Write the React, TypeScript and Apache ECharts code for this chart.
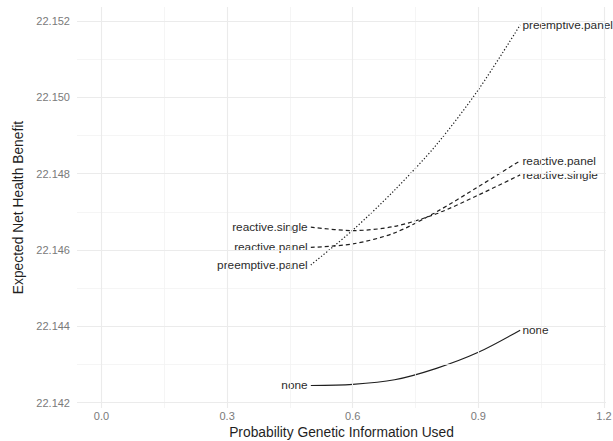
import React, { useEffect, useRef } from "react";
import * as echarts from "echarts";

const xValues = [0.5, 0.6, 0.7, 0.8, 0.9, 1.0];
const noneValues = [22.14245, 22.14248, 22.1426, 22.1429, 22.14332, 22.1439];
const reactivePanelValues = [22.14607, 22.14616, 22.14645, 22.147, 22.14766, 22.14834];
const reactiveSingleValues = [22.1466, 22.14651, 22.14662, 22.14695, 22.14744, 22.14797];
const preemptivePanelValues = [22.14561, 22.14652, 22.14757, 22.14876, 22.1502, 22.1519];

const xTicks = [0, 0.3, 0.6, 0.9, 1.2];
const xMinorTicks = [0.15, 0.45, 0.75, 1.05];
const yTicks = [22.142, 22.144, 22.146, 22.148, 22.15, 22.152];
const yMinorTicks = [22.143, 22.145, 22.147, 22.149, 22.151];

const X_MIN = -0.0585;
const X_MAX = 1.205;
const Y_MIN = 22.14186;
const Y_MAX = 22.15237;

const seriesDefs = [
  { name: "none", values: noneValues, type: "solid" as any },
  { name: "reactive.panel", values: reactivePanelValues, type: [4, 3] as any },
  { name: "reactive.single", values: reactiveSingleValues, type: [4, 3] as any },
  { name: "preemptive.panel", values: preemptivePanelValues, type: [1.3, 2] as any },
];

const FONT = "'Liberation Sans', Arial, Helvetica, sans-serif";

export default function App() {
  const ref = useRef<HTMLDivElement>(null);
  useEffect(() => {
    if (!ref.current) return;
    const chart = echarts.init(ref.current, undefined, { renderer: "svg" });
    const labelStyle = {
      fontSize: 11.8,
      color: "#2b2b2b",
      fontFamily: FONT,
      textBorderWidth: 0,
      textBorderColor: "transparent",
    };
    const lineSeries = seriesDefs.map((s) => ({
      name: s.name,
      type: "line",
      smooth: 0.3,
      showSymbol: true,
      showAllSymbol: true,
      symbol: "circle",
      symbolSize: 0.5,
      itemStyle: { color: "rgba(0,0,0,0)" },
      z: 3,
      lineStyle: { color: "#1f1f1f", width: 1.2, type: s.type },
      data: xValues.map((x, i) => {
        const item: any = { value: [x, s.values[i]] };
        if (i === 0) {
          item.label = { show: true, position: "left", distance: 3, formatter: s.name, ...labelStyle };
        } else if (i === xValues.length - 1) {
          item.label = { show: true, position: "right", distance: 2, formatter: s.name, ...labelStyle };
        }
        return item;
      }),
    }));
    const major = { color: "#ebebeb", width: 1.1, type: "solid" };
    const minor = { color: "#f3f3f3", width: 0.8, type: "solid" };
    const vLine = (v: number, st: any) => [
      { coord: [v, Y_MIN], lineStyle: st },
      { coord: [v, Y_MAX] },
    ];
    const hLine = (v: number, st: any) => [
      { coord: [X_MIN, v], lineStyle: st },
      { coord: [X_MAX, v] },
    ];
    const gridLineSeries = {
      type: "line",
      data: [],
      silent: true,
      z: 1,
      markLine: {
        silent: true,
        symbol: "none",
        label: { show: false },
        emphasis: { disabled: true },
        data: [
          ...xMinorTicks.map((v) => vLine(v, minor)),
          ...yMinorTicks.map((v) => hLine(v, minor)),
          ...xTicks.map((v) => vLine(v, major)),
          ...yTicks.map((v) => hLine(v, major)),
        ],
      },
    };
    chart.setOption({
      animation: false,
      textStyle: { fontFamily: FONT },
      grid: {
        left: 77,
        right: 7,
        top: 7,
        bottom: 33,
        containLabel: false,
        outerBoundsMode: "none",
      },
      xAxis: {
        type: "value",
        min: X_MIN,
        max: X_MAX,
        name: "Probability Genetic Information Used",
        nameLocation: "middle",
        nameGap: 16,
        nameTextStyle: { fontSize: 13.8, color: "#1f1f1f", fontFamily: FONT },
        axisLine: { show: false },
        axisTick: { show: false },
        splitLine: { show: false },
        axisLabel: {
          customValues: xTicks,
          formatter: (v: number) => v.toFixed(1),
          fontSize: 11,
          color: "#7a7a7a",
          margin: 2,
          fontFamily: FONT,
        },
      },
      yAxis: {
        type: "value",
        min: Y_MIN,
        max: Y_MAX,
        name: "Expected Net Health Benefit",
        nameLocation: "middle",
        nameGap: 45,
        nameTextStyle: { fontSize: 13.8, color: "#1f1f1f", fontFamily: FONT },
        axisLine: { show: false },
        axisTick: { show: false },
        splitLine: { show: false },
        axisLabel: {
          customValues: yTicks,
          formatter: (v: number) => v.toFixed(3),
          fontSize: 11,
          color: "#7a7a7a",
          margin: 7,
          fontFamily: FONT,
        },
      },
      series: [gridLineSeries, ...lineSeries],
    });
    return () => chart.dispose();
  }, []);
  return (
    <div
      ref={ref}
      style={{ position: "fixed", left: 0, top: 0, width: 613, height: 441, background: "#fff" }}
    />
  );
}
